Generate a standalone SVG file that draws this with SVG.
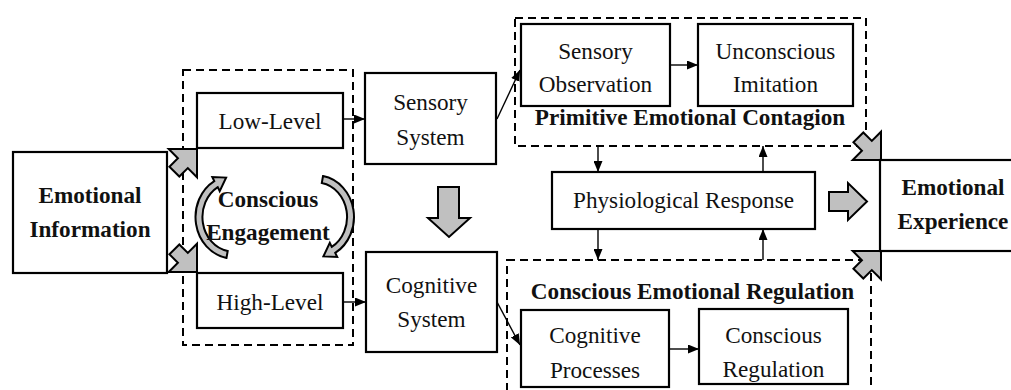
<svg xmlns="http://www.w3.org/2000/svg" width="1011" height="390" viewBox="0 0 1011 390">
<style>
.box{fill:#fff;stroke:#000;stroke-width:2.2}
.dash{fill:none;stroke:#000;stroke-width:2;stroke-dasharray:8,5}
.t{font-family:"Liberation Serif","Times New Roman",serif;font-size:23.2px;fill:#111;text-anchor:middle}
.b{font-weight:bold}
.con{stroke:#000;stroke-width:1.4;fill:none;marker-end:url(#ah)}
.blk{fill:#c0c0c0;stroke:#000;stroke-width:2;stroke-linejoin:miter}
</style>
<defs>
<marker id="ah" markerUnits="userSpaceOnUse" markerWidth="11" markerHeight="9" refX="11" refY="4.5" orient="auto">
<path d="M0,0 L11,4.5 L0,9 z" fill="#000"/>
</marker>
<polygon id="diag" points="0,0 -20,-20 -20,-7 -32,-7 -32,7 -20,7 -20,20"/>
</defs>
<rect width="1011" height="390" fill="#fff"/>

<g id="groups">
<rect class="dash" x="183" y="70" width="170" height="275"/>
<rect class="dash" x="515" y="18" width="351" height="128"/>
<rect class="dash" x="507" y="260" width="364" height="150"/>
</g>

<g id="connectors">
<line class="con" x1="343" y1="119" x2="365" y2="119"/>
<line class="con" x1="343" y1="302" x2="366" y2="302"/>
<line class="con" x1="497" y1="119" x2="520" y2="70"/>
<line class="con" x1="497" y1="302" x2="520" y2="345"/>
<line class="con" x1="670" y1="65" x2="698" y2="65"/>
<line class="con" x1="669" y1="349" x2="699" y2="349"/>
<line class="con" x1="598" y1="146" x2="598" y2="172"/>
<line class="con" x1="763" y1="172" x2="763" y2="146"/>
<line class="con" x1="598" y1="229" x2="598" y2="260"/>
<line class="con" x1="763" y1="260" x2="763" y2="229"/>
<use href="#diag" class="blk" transform="translate(197,149) rotate(-45)"/>
<use href="#diag" class="blk" transform="translate(197,272) rotate(45)"/>
<use href="#diag" class="blk" transform="translate(881,160) rotate(45)"/>
<use href="#diag" class="blk" transform="translate(881,251) rotate(-45)"/>
<polygon class="blk" points="438,187 459,187 459,218 470,218 449,237 428,218 438,218"/>
<polygon class="blk" points="829,192 848,192 848,183 867,201.5 848,220 848,211 829,211"/>
</g>

<g id="emotional-information">
<rect class="box" x="13" y="152" width="154" height="121"/>
<text class="t b" x="90" y="203">Emotional</text>
<text class="t b" x="90" y="237">Information</text>
</g>

<g id="low-level">
<rect class="box" x="197" y="93" width="146" height="55"/>
<text class="t" x="270" y="129">Low-Level</text>
</g>

<g id="high-level">
<rect class="box" x="197" y="273" width="146" height="55"/>
<text class="t" x="270" y="310">High-Level</text>
</g>

<g id="conscious-engagement">
<path class="blk" stroke-width="1.6" d="M226.5,257.9 A37.5,41.5 0 0 1 214.25,181.1 L212.3,177 L226.1,177.6 L219.7,191.2 L217.75,187.1 A30.5,34.5 0 0 0 227.7,251 Z"/>
<path class="blk" stroke-width="1.6" transform="rotate(180 274.75 217)" d="M226.5,257.9 A37.5,41.5 0 0 1 214.25,181.1 L212.3,177 L226.1,177.6 L219.7,191.2 L217.75,187.1 A30.5,34.5 0 0 0 227.7,251 Z"/>
<text class="t b" x="268" y="207">Conscious</text>
<text class="t b" x="268" y="240">Engagement</text>
</g>

<g id="sensory-system">
<rect class="box" x="365" y="73" width="131" height="91"/>
<text class="t" x="430.5" y="110">Sensory</text>
<text class="t" x="430.5" y="145">System</text>
</g>

<g id="cognitive-system">
<rect class="box" x="366" y="252" width="131" height="100"/>
<text class="t" x="431.5" y="293">Cognitive</text>
<text class="t" x="431.5" y="327">System</text>
</g>

<g id="sensory-observation">
<rect class="box" x="521" y="24" width="149" height="82"/>
<text class="t" x="595.5" y="59">Sensory</text>
<text class="t" x="595.5" y="92">Observation</text>
</g>

<g id="unconscious-imitation">
<rect class="box" x="698" y="24" width="155" height="82"/>
<text class="t" x="775.5" y="59">Unconscious</text>
<text class="t" x="775.5" y="92">Imitation</text>
</g>

<g id="primitive-label">
<text class="t b" x="690" y="125">Primitive Emotional Contagion</text>
</g>

<g id="physiological-response">
<rect class="box" x="552" y="172" width="263" height="57"/>
<text class="t" x="683.5" y="208">Physiological Response</text>
</g>

<g id="regulation-label">
<text class="t b" x="692.5" y="299">Conscious Emotional Regulation</text>
</g>

<g id="cognitive-processes">
<rect class="box" x="521" y="310" width="148" height="77"/>
<text class="t" x="595" y="343">Cognitive</text>
<text class="t" x="595" y="378">Processes</text>
</g>

<g id="conscious-regulation">
<rect class="box" x="699" y="309" width="149" height="75"/>
<text class="t" x="773.5" y="343">Conscious</text>
<text class="t" x="773.5" y="377">Regulation</text>
</g>

<g id="emotional-experience">
<rect class="box" x="880" y="160" width="145" height="91"/>
<text class="t b" x="953" y="195">Emotional</text>
<text class="t b" x="953" y="229">Experience</text>
</g>
</svg>
